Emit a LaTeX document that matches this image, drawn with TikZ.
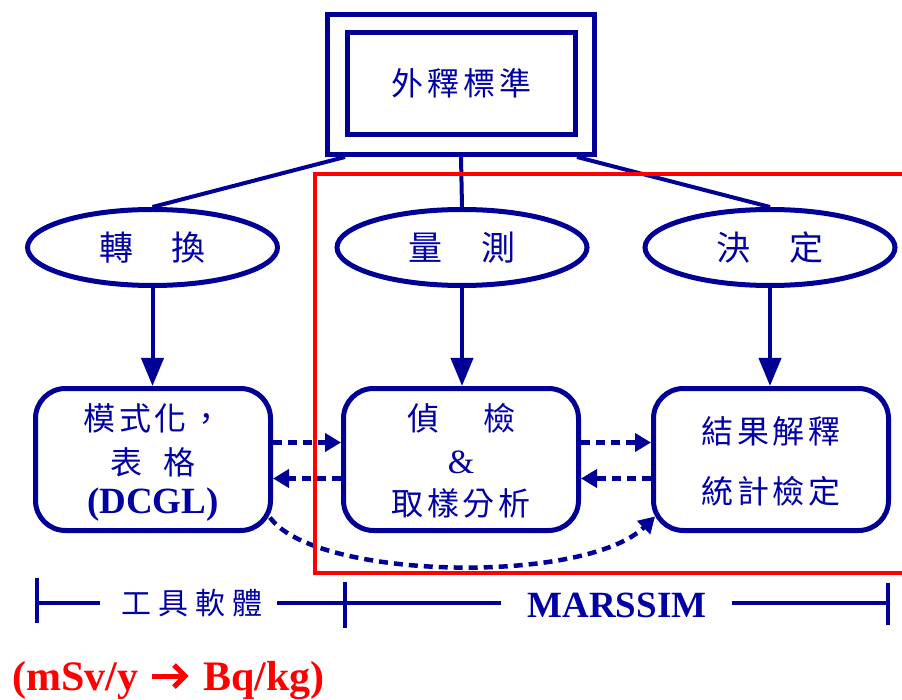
\documentclass[tikz,border=0pt]{standalone}
\usepackage{fontspec}
\setmainfont{Liberation Serif}
\newfontfamily\cjk[LetterSpace=12]{Noto Sans CJK TC}
\newfontfamily\cjkwide[LetterSpace=23]{Noto Sans CJK TC}
\usetikzlibrary{arrows.meta,shapes.geometric,calc}
\definecolor{nv}{RGB}{0,0,150}
\definecolor{tx}{RGB}{0,0,165}
\definecolor{rd}{RGB}{255,0,0}
\begin{document}
\begin{tikzpicture}[x=1pt,y=-1pt,
  frame/.style={draw=nv, line width=5pt, inner sep=0pt},
  oval/.style={ellipse, draw=nv, line width=5pt, minimum width=250pt, minimum height=76pt, inner sep=0pt, text=tx, font=\cjk\fontsize{34}{38}\selectfont},
  card/.style={draw=nv, line width=5pt, rounded corners=30pt, minimum width=235pt, minimum height=142pt},
  cjktext/.style={text=tx, inner sep=0pt, font=\cjk\fontsize{32}{36}\selectfont},
  latin/.style={text=tx, inner sep=0pt, font=\bfseries\fontsize{37}{40}\selectfont},
  link/.style={draw=nv, line width=4pt},
  down/.style={link, -{Triangle[length=28pt,width=22pt]}},
  dashlink/.style={draw=nv, line width=4.5pt, dash pattern=on 9pt off 6pt, -{Triangle[length=16pt,width=18pt]}},
  scaleline/.style={draw=nv, line width=4pt},
  redline/.style={draw=rd, line width=4pt},
  redtext/.style={text=rd, inner sep=0pt, font=\bfseries\fontsize{42}{46}\selectfont},
  redarrow/.style={draw=rd, line width=5pt, line join=miter},
]
\useasboundingbox (0,0) rectangle (902,700);
\clip (0,0) rectangle (902,700);

% top double box
\node[frame, minimum width=267pt, minimum height=140pt] (top) at (461,84.5) {};
\node[frame, minimum width=228pt, minimum height=102pt, text=tx, font=\cjk\fontsize{32}{36}\selectfont] (topin) at (461.5,83.5) {外釋標準};

% ellipses
\node[oval] (e1) at (152.5,247.5) {轉\hspace{39pt}換};
\node[oval] (e2) at (462,247.5) {量\hspace{39pt}測};
\node[oval] (e3) at (770,247.5) {決\hspace{39pt}定};

% boxes
\node[card] (b1) at (153,459.5) {};
\node[card] (b2) at (461,459.5) {};
\node[card] (b3) at (771,459.5) {};

\node[cjktext] (m1) at (153,418) {模式化，};
\node[cjktext] (m2) at (153,462) {表\hspace{21pt}格};
\node[latin] (m3) at (153,505) {(DCGL)};
\node[cjktext] (n1) at (461,418) {偵\hspace{44pt}檢};
\node[text=tx, inner sep=0pt, font=\fontsize{34}{40}\selectfont] (n2) at (461,462) {\&};
\node[cjktext] (n3) at (461,503) {取樣分析};
\node[cjktext] (r1) at (771,431) {結果解釋};
\node[cjktext] (r2) at (771,491) {統計檢定};

% connectors from top box
\draw[link] ([xshift=20pt]top.south west) -- (e1.north);
\draw[link] (top.south) -- (e2.north);
\draw[link] ([xshift=-20pt]top.south east) -- (e3.north);

% vertical arrows
\draw[down] (e1.south) -- (e1.south |- b1.north);
\draw[down] (e2.south) -- (e2.south |- b2.north);
\draw[down] (e3.south) -- (e3.south |- b3.north);

% dashed arrows
\draw[dashlink] ($(b1.east)+(0,-17)$) -- ($(b2.west)+(0,-17)$);
\draw[dashlink] ($(b2.west)+(0,19)$) -- ($(b1.east)+(0,19)$);
\draw[dashlink] ($(b2.east)+(0,-17)$) -- ($(b3.west)+(0,-17)$);
\draw[dashlink] ($(b3.west)+(0,19)$) -- ($(b2.east)+(0,19)$);
\draw[dashlink] ($(b1.east)+(-3,58)$) .. controls (315,580) and (585,585) .. ($(b3.west)+(4,57)$);

% scale bar
\coordinate (s1) at (37,603);
\coordinate (s2) at (345,603);
\coordinate (s3) at (888,603);
\coordinate (g1) at (100,603);
\coordinate (g2) at (277,603);
\coordinate (g3) at (501,603);
\coordinate (g4) at (732,603);
\node[text=tx, inner sep=0pt, font=\cjkwide\fontsize{30}{34}\selectfont] (tool) at (192,603) {工具軟體};
\node[latin] (mars) at (617,605) {MARSSIM};
\draw[scaleline] (s1) -- (g1);
\draw[scaleline] (g2) -- (s2) -- (g3);
\draw[scaleline] (g4) -- (s3);
\draw[scaleline] ($(s1)+(0,-25)$) -- ($(s1)+(0,20)$);
\draw[scaleline] ($(s2)+(0,-21)$) -- ($(s2)+(0,25)$);
\draw[scaleline] ($(s3)+(0,-20)$) -- ($(s3)+(0,22)$);

% red text
\node[redtext, anchor=base west] (q1) at (12,690) {(mSv/y};
\node[redtext, anchor=base west] (q2) at (203,690) {Bq/kg)};
\draw[redarrow] ($(q1.base east)+(14,-14)$) -- ($(q2.base west)+(-18,-14)$);
\draw[redarrow] ($(q2.base west)+(-29,-25)$) -- ($(q2.base west)+(-18,-14)$) -- ($(q2.base west)+(-29,-3)$);

% red frame
\draw[redline] (315,174) rectangle (915,573);
\end{tikzpicture}
\end{document}
